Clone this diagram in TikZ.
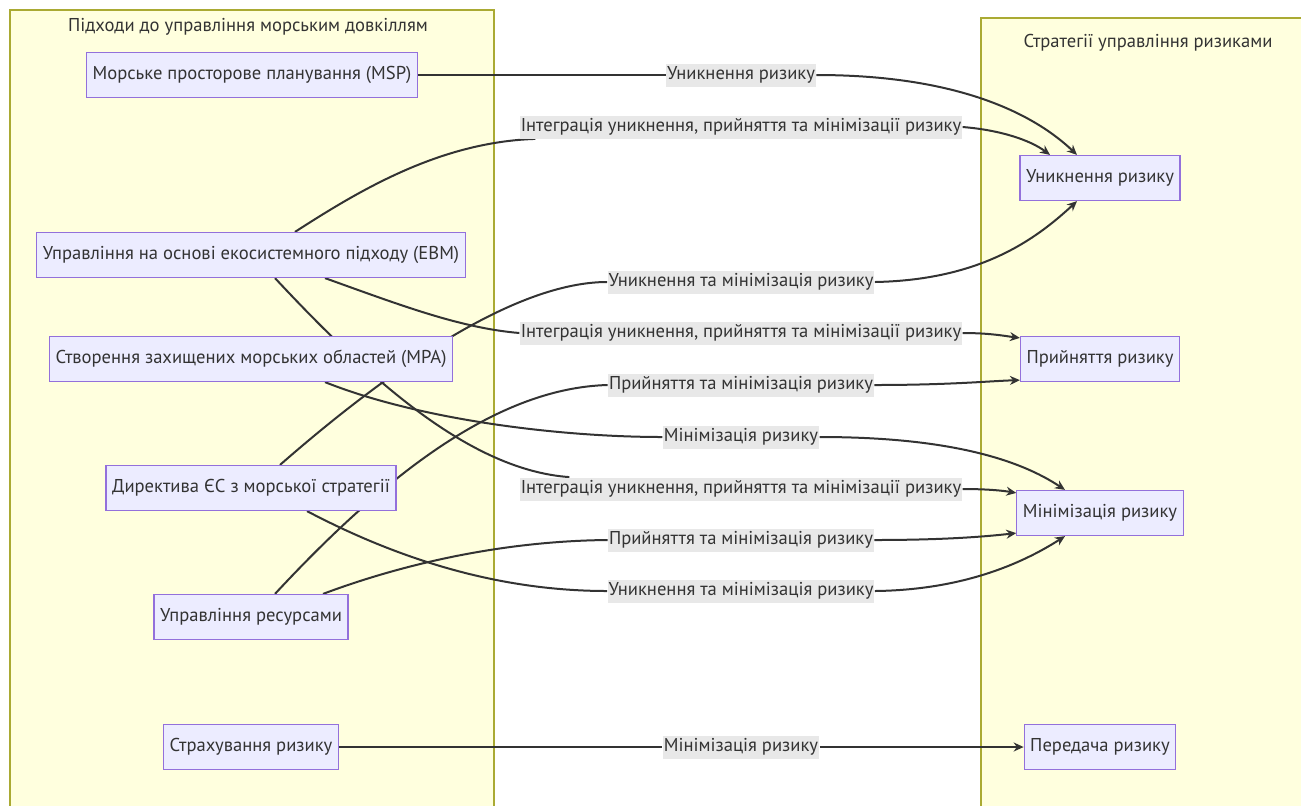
\documentclass[tikz,border=0pt]{standalone}
\usepackage{fontspec}
\setmainfont{PT Sans}
\usetikzlibrary{arrows.meta,backgrounds}

\definecolor{nodefill}{HTML}{ECECFF}
\definecolor{nodeline}{HTML}{9370DB}
\definecolor{clusterfill}{HTML}{FFFFDE}
\definecolor{clusterline}{HTML}{AAAA33}
\definecolor{edgeline}{HTML}{333333}
\definecolor{labelfill}{HTML}{E8E8E8}
\definecolor{textcol}{HTML}{333333}

\begin{document}
\begin{tikzpicture}[x=0.5pt, y=-0.5pt,
  box/.style={draw=nodeline, fill=nodefill, line width=0.6pt, minimum height=22.5pt,
    inner xsep=3pt, text=textcol, font=\fontsize{9.3}{11}\selectfont},
  lbl/.style={fill=labelfill, inner xsep=0.5pt, inner ysep=0pt, minimum height=11.5pt,
    text=textcol, font=\fontsize{9.3}{11}\selectfont},
  grouptitle/.style={text=textcol, font=\fontsize{9.3}{11}\selectfont},
  edge/.style={draw=edgeline, line width=1pt},
  arr/.style={edge, -{Stealth[length=5pt,width=4.5pt]}}]

\clip (0,0) rectangle (1301,805);

% approaches (left group)
\node[grouptitle] (ltitle) at (248,27) {Підходи до управління морським довкіллям};
\node[box] (msp) at (252,75) {Морське просторове планування (MSP)};
\node[box] (ebm) at (251,255) {Управління на основі екосистемного підходу (EBM)};
\node[box] (mpa) at (251,359) {Створення захищених морських областей (MPA)};
\node[box] (dir) at (251,488) {Директива ЄС з морської стратегії};
\node[box] (res) at (251,617) {Управління ресурсами};
\node[box] (ins) at (251,747) {Страхування ризику};

% strategies (right group)
\node[grouptitle] (rtitle) at (1148,43) {Стратегії управління ризиками};
\node[box] (avoid) at (1100,178) {Уникнення ризику};
\node[box] (accept) at (1100,359) {Прийняття ризику};
\node[box] (minim) at (1100,513) {Мінімізація ризику};
\node[box] (transfer) at (1100,747) {Передача ризику};

% edge labels
\node[lbl] (l1) at (741,75) {Уникнення ризику};
\node[lbl] (l2) at (741,127) {Інтеграція уникнення, прийняття та мінімізації ризику};
\node[lbl] (l3) at (741,282) {Уникнення та мінімізація ризику};
\node[lbl] (l4) at (741,333) {Інтеграція уникнення, прийняття та мінімізації ризику};
\node[lbl] (l5) at (741,385) {Прийняття та мінімізація ризику};
\node[lbl] (l6) at (741,437) {Мінімізація ризику};
\node[lbl] (l7) at (741,489) {Інтеграція уникнення, прийняття та мінімізації ризику};
\node[lbl] (l8) at (741,540) {Прийняття та мінімізація ризику};
\node[lbl] (l9) at (741,591) {Уникнення та мінімізація ризику};
\node[lbl] (l10) at (741,747) {Мінімізація ризику};

\begin{scope}[on background layer]
\fill[clusterfill] (10,10) rectangle (494,830);
\draw[clusterline, line width=0.6pt] (10,10) rectangle (494,830);
\fill[clusterfill] (981,18) rectangle (1330,830);
\draw[clusterline, line width=0.6pt] (981,18) rectangle (1330,830);

\draw[edge] (msp.east) -- (l1.west);
\draw[arr] (l1.east) .. controls (960,75) and (1035,115) .. ([xshift=-11.5pt]avoid.north);

\draw[edge] ([xshift=22pt]ebm.north) .. controls (360,190) and (440,142) .. ([xshift=8pt]l2.south west);
\draw[arr] (l2.east) .. controls (1000,130) and (1030,140) .. ([xshift=-25pt]avoid.north);

\draw[edge] ([xshift=14.5pt]dir.north) .. controls (400,360) and (520,282) .. (l3.west);
\draw[arr] (l3.east) .. controls (980,280) and (1035,240) .. ([xshift=-11.5pt]avoid.south);

\draw[edge] ([xshift=37pt]ebm.south) .. controls (400,305) and (460,328) .. (l4.west);
\draw[arr] (l4.east) .. controls (990,333) and (1005,336) .. ([yshift=-1pt]accept.north west);

\draw[edge] ([xshift=12pt]res.north) .. controls (390,470) and (500,388) .. (l5.west);
\draw[arr] (l5.east) .. controls (950,385) and (990,381) .. ([yshift=1pt]accept.south west);

\draw[edge] ([xshift=37pt]mpa.south) .. controls (420,420) and (560,437) .. (l6.west);
\draw[arr] (l6.east) .. controls (950,437) and (1020,460) .. ([xshift=-17.5pt]minim.north);

\draw[edge] ([xshift=12pt]ebm.south) .. controls (370,380) and (470,470) .. ([xshift=25pt]l7.north west);
\draw[arr] (l7.east) .. controls (990,489) and (1005,491) .. ([yshift=-1.5pt]minim.north west);

\draw[edge] ([xshift=36pt]res.north) .. controls (400,565) and (500,541) .. (l8.west);
\draw[arr] (l8.east) .. controls (950,540) and (990,536) .. ([yshift=1.5pt]minim.south west);

\draw[edge] ([xshift=28pt]dir.south) .. controls (400,560) and (500,591) .. (l9.west);
\draw[arr] (l9.east) .. controls (960,590) and (1020,565) .. ([xshift=-17.5pt]minim.south);

\draw[edge] (ins.east) -- (l10.west);
\draw[arr] (l10.east) -- (transfer.west);
\end{scope}
\end{tikzpicture}
\end{document}
